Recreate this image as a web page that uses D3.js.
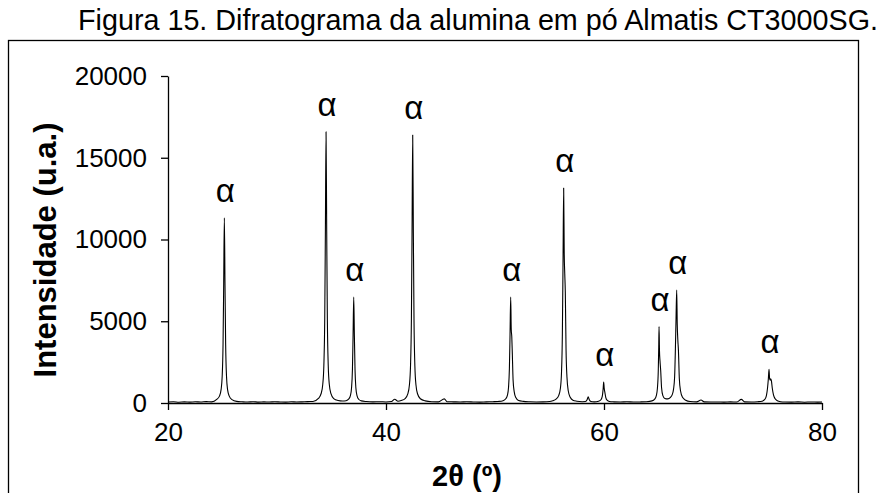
<!DOCTYPE html>
<html>
<head>
<meta charset="utf-8">
<script src="https://cdn.jsdelivr.net/npm/d3@7"></script>
<style>
  html, body { margin: 0; padding: 0; background: #fff; }
  svg { display: block; }
  text { font-family: "Liberation Sans", Arial, sans-serif; fill: #000; }
</style>
</head>
<body>
<svg id="chart" width="890" height="493"></svg>
<script>
// X-ray diffraction pattern of Almatis CT3000SG alumina powder (2θ in degrees, intensity in a.u.)
const twoTheta = [
  20.0, 20.5, 21.0, 21.5, 22.0, 22.5, 23.0, 23.5, 24.0,
  24.47, 24.72, 24.87, 24.97, 25.05, 25.11, 25.17, 25.23, 25.29, 25.37, 25.47, 25.62, 25.87,
  26.3, 26.8, 27.3, 27.8, 28.3, 28.8, 29.3, 29.8, 30.3, 30.8, 31.3, 31.8, 32.3, 32.8, 33.3,
  33.8, 34.05, 34.2, 34.3, 34.38, 34.44, 34.5, 34.56, 34.62, 34.7, 34.8, 34.95, 35.2,
  35.6, 36.0,
  36.34, 36.59, 36.74, 36.84, 36.92, 36.98, 37.04, 37.1, 37.16, 37.24, 37.34, 37.49, 37.74,
  38.2, 38.8, 39.4, 40.0, 40.5, 40.8, 41.1, 41.4,
  41.75, 42.0, 42.15, 42.25, 42.33, 42.39, 42.45, 42.51, 42.57, 42.65, 42.75, 42.9, 43.15,
  43.6, 44.2, 44.8, 45.35, 45.6, 46.2, 46.8, 47.4, 48.0, 48.6, 49.2, 49.8, 50.3,
  50.74, 50.99, 51.14, 51.24, 51.32, 51.38, 51.44, 51.49, 51.54, 51.59, 51.66, 51.76, 51.91, 52.16,
  52.6, 53.2, 53.8, 54.4, 55.0, 55.3,
  55.6, 55.85, 56.0, 56.1, 56.18, 56.24, 56.3, 56.35, 56.4, 56.45, 56.52, 56.6, 56.72, 56.9, 57.15,
  57.5, 58.0, 58.3, 58.45, 58.55, 58.65, 58.8, 59.1,
  59.5, 59.72, 59.84, 59.92, 59.97, 60.02, 60.08, 60.16, 60.28, 60.5,
  60.9, 61.5, 62.1, 62.7, 63.3, 63.9,
  64.4, 64.65, 64.8, 64.9, 64.98, 65.02, 65.05, 65.09, 65.14, 65.2, 65.28, 65.4, 65.58,
  65.85,
  66.1, 66.25, 66.38, 66.48, 66.55, 66.61, 66.67, 66.72, 66.77, 66.83, 66.91, 67.02, 67.2, 67.5,
  67.9, 68.5, 68.9, 69.2, 69.8, 70.4, 71.0, 71.6, 72.2, 72.6, 72.9, 73.5, 74.1,
  74.5, 74.75, 74.9, 75.0, 75.08, 75.14, 75.19, 75.24, 75.3, 75.36, 75.44, 75.55, 75.7, 75.9,
  76.2, 76.6, 77.2, 77.8, 78.4, 79.0, 79.6, 80.0
];
const intensity = [
  60, 80, 50, 70, 55, 75, 60, 85, 70,
  220, 420, 820, 1620, 3600, 7300, 11330, 7200, 3550, 1600, 800, 420, 210,
  100, 75, 60, 80, 55, 70, 60, 80, 65, 55, 75, 60, 70, 85, 90,
  280, 580, 1150, 2330, 5200, 10600, 16590, 10500, 5100, 2300, 1130, 570, 270,
  150, 120,
  140, 250, 470, 930, 2050, 4150, 6480, 4100, 2000, 900, 450, 230, 130,
  90, 70, 80, 65, 90, 230, 110, 150,
  270, 560, 1120, 2280, 5100, 10500, 16390, 10400, 5050, 2250, 1100, 550, 260,
  130, 80, 70, 250, 80, 70, 60, 75, 65, 55, 70, 80, 95,
  140, 260, 480, 950, 2100, 4200, 6480, 4500, 4050, 3000, 1400, 700, 330, 150,
  100, 75, 65, 70, 90, 140,
  240, 470, 900, 1850, 4200, 8500, 13150, 9200, 7900, 6800, 3200, 1600, 750, 350, 170,
  110, 80, 90, 200, 380, 200, 90, 70,
  110, 200, 400, 850, 1280, 900, 650, 350, 170, 90,
  70, 60, 75, 60, 65, 80,
  130, 240, 450, 900, 2000, 3400, 4670, 3200, 2550, 2000, 950, 450, 280,
  250,
  350, 500, 850, 1600, 3300, 5200, 6910, 4800, 3900, 3200, 1500, 750, 350, 170,
  90, 70, 180, 70, 60, 65, 55, 70, 60, 220, 70, 60, 80,
  110, 220, 450, 900, 1500, 2060, 1500, 1400, 1480, 1350, 900, 500, 260, 140,
  80, 60, 55, 70, 50, 65, 55, 60
];

// α-alumina reflections marked on the pattern
const peakTheta = [25.17, 34.5, 37.04, 42.45, 51.44, 56.3, 59.97, 65.05, 66.67, 75.14];
const peakIntensity = [11330, 16590, 6480, 16390, 6480, 13150, 1280, 4670, 6910, 2060];
const peakLabel = "α";

const xTicks = [20, 40, 60, 80];
const yTicks = [0, 5000, 10000, 15000, 20000];

const titleText = "Figura 15. Difratograma da alumina em pó Almatis CT3000SG.";
const xTitle = "2θ (º)";
const yTitle = "Intensidade (u.a.)";

const svg = d3.select("#chart");

const x = d3.scaleLinear().domain([20, 80]).range([168, 822]);
const y = d3.scaleLinear().domain([0, 20000]).range([403, 76]);

// outer frame around the figure
svg.append("rect")
  .attr("x", 8.5).attr("y", 40.5)
  .attr("width", 850).attr("height", 500)
  .attr("fill", "none").attr("stroke", "#000").attr("stroke-width", 1.3);

// title, set in a condensed face
svg.append("text")
  .attr("x", 478).attr("y", 30)
  .attr("text-anchor", "middle")
  .attr("textLength", 800)
  .attr("lengthAdjust", "spacingAndGlyphs")
  .style("font-family", "'Liberation Sans Narrow', 'Liberation Sans', Arial, sans-serif")
  .style("font-size", "29px")
  .text(titleText);

// axes
const xAxis = svg.append("g")
  .attr("transform", `translate(0,${y(0)})`)
  .call(d3.axisBottom(x).tickValues(xTicks).tickFormat(d3.format("d"))
    .tickSize(7).tickSizeOuter(0).tickPadding(13));

const yAxis = svg.append("g")
  .attr("transform", `translate(${x(20)},0)`)
  .call(d3.axisLeft(y).tickValues(yTicks).tickFormat(d3.format("d"))
    .tickSize(7).tickSizeOuter(0).tickPadding(14));

[xAxis, yAxis].forEach(g => {
  g.select(".domain").attr("stroke", "#000").attr("stroke-width", 1.3);
  g.selectAll(".tick line").attr("stroke", "#000").attr("stroke-width", 1.3);
  g.selectAll(".tick text")
    .style("font-family", "'Liberation Sans', Arial, sans-serif")
    .style("font-size", "26px")
    .attr("fill", "#000");
});

// diffraction pattern
const pattern = twoTheta.map((t, i) => [t, intensity[i]]);
svg.append("path")
  .datum(pattern)
  .attr("fill", "none")
  .attr("stroke", "#000")
  .attr("stroke-width", 1.1)
  .attr("stroke-linejoin", "round")
  .attr("d", d3.line().x(d => x(d[0])).y(d => y(d[1])).curve(d3.curveMonotoneX));

// peak labels
svg.append("g").selectAll("text")
  .data(peakTheta.map((t, i) => [t, peakIntensity[i]]))
  .join("text")
  .attr("x", d => x(d[0]) + 1)
  .attr("y", d => y(d[1]) - 16)
  .attr("text-anchor", "middle")
  .style("font-size", "33px")
  .text(peakLabel);

// axis titles
svg.append("text")
  .attr("x", 467).attr("y", 486)
  .attr("text-anchor", "middle")
  .style("font-size", "29px")
  .style("font-weight", "bold")
  .text(xTitle);

svg.append("text")
  .attr("transform", "translate(56,250) rotate(-90)")
  .attr("text-anchor", "middle")
  .style("font-size", "31px")
  .style("font-weight", "bold")
  .text(yTitle);
</script>
</body>
</html>
